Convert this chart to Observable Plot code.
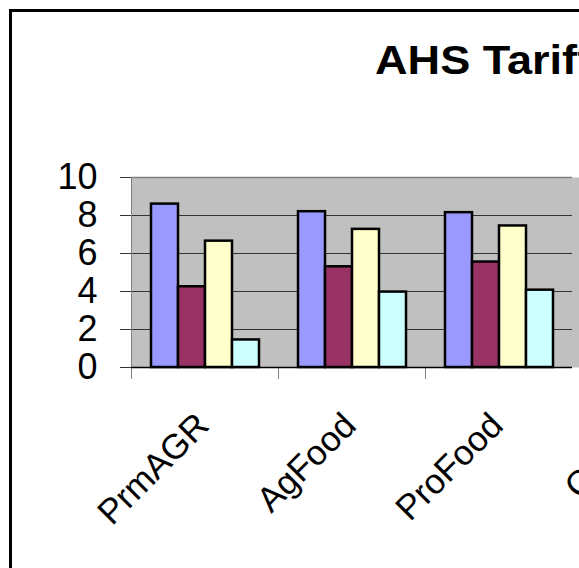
<!DOCTYPE html>
<html>
<head>
<meta charset="utf-8">
<script src="https://cdn.jsdelivr.net/npm/d3@7"></script>
<script src="https://cdn.jsdelivr.net/npm/@observablehq/plot@0.6"></script>
<style>
  html, body { margin: 0; padding: 0; width: 579px; height: 568px; overflow: hidden; background: #fff; }
  body { position: relative; font-family: "Liberation Sans", Arial, sans-serif; }
  #frame { position: absolute; left: 9px; top: 9px; width: 900px; height: 900px; border: 3px solid #000; box-sizing: border-box; }
  #title { position: absolute; left: 375px; top: 40px; font-size: 41px; font-weight: bold; white-space: nowrap; line-height: 1; color: #000; transform: scaleX(1.1); transform-origin: left top; }
  #chart { position: absolute; left: 0; top: 0; width: 739px; }
  #chart svg { max-width: none !important; }
</style>
</head>
<body>
<div id="frame"></div>
<div id="title">AHS Tariffs</div>
<div id="chart"></div>
<script>
// Categories (4th is cut off at the right edge of the picture)
const categories = ["PrmAGR", "AgFood", "ProFood", "Cotton"];
const seriesNames = ["Series 1", "Series 2", "Series 3", "Series 4"];
const seriesColors = ["#9999FF", "#993366", "#FFFFCC", "#CCFFFF"];
// Values for the visible categories (PrmAGR, AgFood, ProFood)
const series1 = [8.6, 8.2, 8.15];
const series2 = [4.25, 5.3, 5.55];
const series3 = [6.65, 7.27, 7.45];
const series4 = [1.45, 3.97, 4.07];
const yTicks = [0, 2, 4, 6, 8, 10];

const allSeries = [series1, series2, series3, series4];
const rows = [];
allSeries.forEach((vals, si) => {
  vals.forEach((v, ci) => rows.push({category: categories[ci], series: seriesNames[si], value: v}));
});

const chart = Plot.plot({
  width: 739,
  height: 568,
  marginLeft: 131,
  marginRight: 20,
  marginTop: 177,
  marginBottom: 201,
  style: {fontFamily: "'Liberation Sans', Arial, sans-serif", background: "transparent", color: "#000", overflow: "visible", maxWidth: "none"},
  fx: {domain: categories, padding: 0},
  x: {domain: seriesNames, paddingInner: 0, paddingOuter: 0.72, axis: null},
  y: {domain: [0, 10]},
  color: {domain: seriesNames, range: seriesColors},
  marks: [
    Plot.frame({fill: "#C0C0C0", facet: "super"}),
    Plot.ruleY(yTicks.filter(d => d > 0 && d < 10), {stroke: "#333", strokeWidth: 1}),
    Plot.ruleY([10], {stroke: "#808080", strokeWidth: 1.5}),
    Plot.frame({anchor: "left", stroke: "#808080", facet: "super"}),
    Plot.frame({anchor: "left", stroke: "#808080", insetTop: 190, insetBottom: -11}),
    Plot.barY(rows, {fx: "category", x: "series", y: "value", fill: "series", stroke: "#000", strokeWidth: 2.5}),
    Plot.ruleY([0], {stroke: "#000", strokeWidth: 1.5}),
    Plot.axisY({ticks: yTicks, tickSize: 11, tickPadding: 23, fontSize: 36, label: null, stroke: "#333"}),
    Plot.axisFx({anchor: "bottom", tickRotate: -45, tickSize: 0, tickPadding: 52, dx: -2, fontSize: 35, label: null})
  ]
});
document.getElementById("chart").appendChild(chart);
</script>
</body>
</html>
